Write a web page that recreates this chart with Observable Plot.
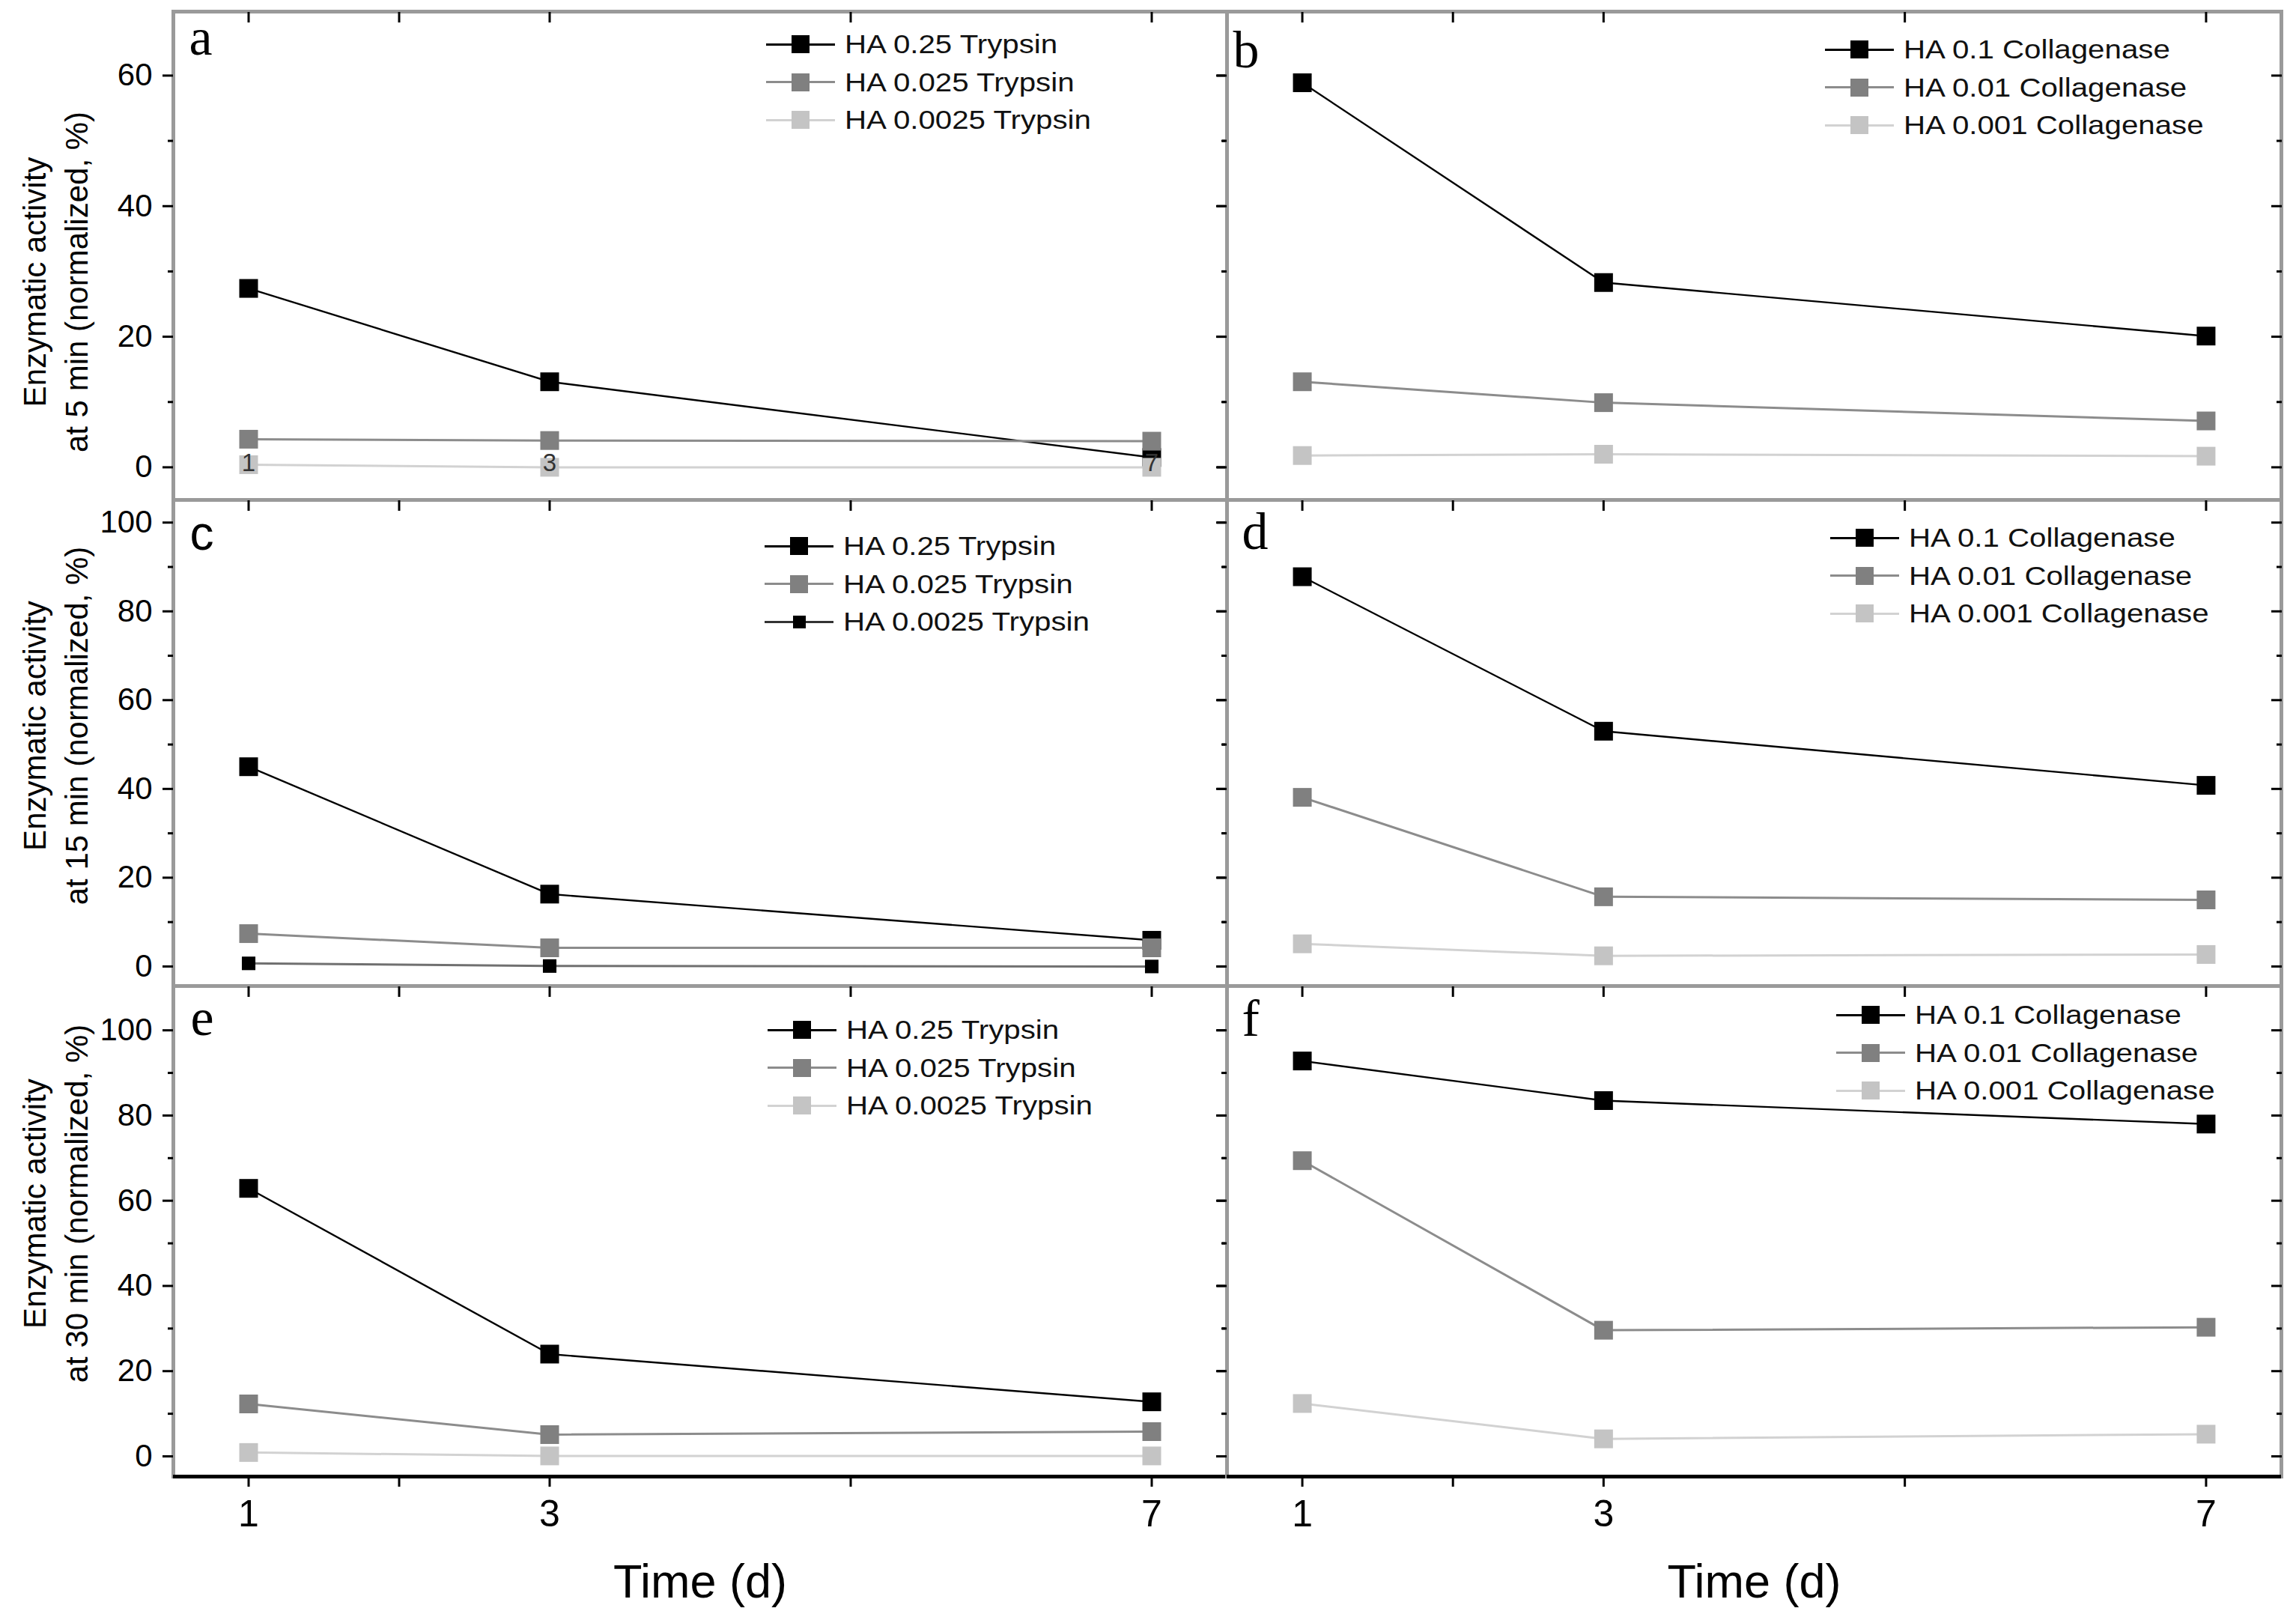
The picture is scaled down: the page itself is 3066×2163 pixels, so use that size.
<!DOCTYPE html>
<html><head><meta charset="utf-8">
<script src="https://cdn.jsdelivr.net/npm/d3@7"></script>
<script src="https://cdn.jsdelivr.net/npm/@observablehq/plot@0.6"></script>
<style>
body{margin:0;background:#fff;}
#root{position:relative;width:3066px;height:2163px;background:#fff;overflow:hidden;font-family:"Liberation Sans",Arial,sans-serif;}
.cell{position:absolute;}
.legend{position:absolute;font-family:"Liberation Sans",Arial,sans-serif;font-size:35px;color:#111;}
.lrow{position:absolute;left:0;height:0;white-space:nowrap;}
.lline{position:absolute;left:0;width:92px;top:-1.5px;height:3px;}
.lsq{position:absolute;}
.ltext{position:absolute;left:105px;top:0;transform-origin:0 50%;transform:translateY(-52%) scaleX(1.15);line-height:1;}
</style></head><body><div id="root"></div>
<script>
// ---- data ----
const days = [1, 3, 7];
const xTicks = [1, 2, 3, 5, 7];
const xTickLabels = [1, 3, 7];
const trypsinNames = ["HA 0.25 Trypsin", "HA 0.025 Trypsin", "HA 0.0025 Trypsin"];
const collagenaseNames = ["HA 0.1 Collagenase", "HA 0.01 Collagenase", "HA 0.001 Collagenase"];
const panelLetters = ["a", "b", "c", "d", "e", "f"];
const yTitles = [
  "Enzymatic activity\nat 5 min (normalized, %)",
  "Enzymatic activity\nat 15 min (normalized, %)",
  "Enzymatic activity\nat 30 min (normalized, %)"
];
const xTitle = "Time (d)";
// 5 min
const trypsin5_HA025 = [27.4, 13.1, 1.5];
const trypsin5_HA0025 = [4.3, 4.1, 4.0];
const trypsin5_HA00025 = [0.4, 0.0, 0.0];
const collagenase5_HA01 = [58.9, 28.3, 20.1];
const collagenase5_HA001 = [13.1, 9.9, 7.1];
const collagenase5_HA0001 = [1.8, 2.0, 1.7];
// 15 min
const trypsin15_HA025 = [45.0, 16.3, 5.9];
const trypsin15_HA0025 = [7.4, 4.2, 4.2];
const trypsin15_HA00025 = [0.7, 0.1, 0.0];
const collagenase15_HA01 = [87.8, 53.0, 40.8];
const collagenase15_HA001 = [38.1, 15.7, 15.0];
const collagenase15_HA0001 = [5.1, 2.4, 2.7];
// 30 min
const trypsin30_HA025 = [62.9, 24.0, 12.8];
const trypsin30_HA0025 = [12.3, 5.1, 5.8];
const trypsin30_HA00025 = [0.9, 0.1, 0.1];
const collagenase30_HA01 = [92.8, 83.5, 78.0];
const collagenase30_HA001 = [69.4, 29.6, 30.3];
const collagenase30_HA0001 = [12.4, 4.1, 5.2];
// axis ticks per row
const yMajorTicks = [[0, 20, 40, 60], [0, 20, 40, 60, 80, 100], [0, 20, 40, 60, 80, 100]];
const yMinorTicks = [[10, 30, 50], [10, 30, 50, 70, 90], [10, 30, 50, 70, 90]];
const yDomains = [[-5, 69.8], [-4.4, 105.1], [-4.75, 110.4]];

// ---- styles ----
const BLACK = {line: "#000000", marker: "#000000", r: 14.1, sw: 2.4};
const GREY = {line: "#8c8c8c", marker: "#808080", r: 14.1, sw: 3};
const LIGHT = {line: "#d2d2d2", marker: "#c4c4c4", r: 14.1, sw: 3};
const SMALLBLACK = {line: "#707070", marker: "#000000", r: 10.2, sw: 3};

const panels = [
  {row: 0, col: 0, names: trypsinNames, series: [trypsin5_HA025, trypsin5_HA0025, trypsin5_HA00025], styles: [BLACK, GREY, LIGHT], letter: {dx: 21, dy: 57, serif: true}, legend: {dx: 792, dy: 44}},
  {row: 0, col: 1, names: collagenaseNames, series: [collagenase5_HA01, collagenase5_HA001, collagenase5_HA0001], styles: [BLACK, GREY, LIGHT], letter: {dx: 8, dy: 74, serif: true}, legend: {dx: 799, dy: 51}},
  {row: 1, col: 0, names: trypsinNames, series: [trypsin15_HA025, trypsin15_HA0025, trypsin15_HA00025], styles: [BLACK, GREY, SMALLBLACK], letter: {dx: 22, dy: 66, serif: false}, legend: {dx: 790, dy: 62}},
  {row: 1, col: 1, names: collagenaseNames, series: [collagenase15_HA01, collagenase15_HA001, collagenase15_HA0001], styles: [BLACK, GREY, LIGHT], letter: {dx: 20, dy: 65, serif: true}, legend: {dx: 806, dy: 51}},
  {row: 2, col: 0, names: trypsinNames, series: [trypsin30_HA025, trypsin30_HA0025, trypsin30_HA00025], styles: [BLACK, GREY, LIGHT], letter: {dx: 23, dy: 65, serif: true}, legend: {dx: 794, dy: 59}},
  {row: 2, col: 1, names: collagenaseNames, series: [collagenase30_HA01, collagenase30_HA001, collagenase30_HA0001], styles: [BLACK, GREY, LIGHT], letter: {dx: 20, dy: 66, serif: true}, legend: {dx: 814, dy: 39}}
];

const cols = [{left: 0, width: 1638, mL: 231, mR: 0}, {left: 1638, width: 1428, mL: 0, mR: 20}];
const rows = [{top: 0, height: 667, mT: 15, mB: 0}, {top: 667, height: 649, mT: 0, mB: 0}, {top: 1316, height: 847, mT: 0, mB: 192}];
const yTitleShift = [35, -23, -37];

const SANS = "Liberation Sans, Arial, sans-serif";
const SERIF = "Liberation Serif, Times New Roman, serif";
const root = document.getElementById("root");

panels.forEach((p, pi) => {
  const C = cols[p.col], R = rows[p.row];
  const marks = [];
  marks.push(Plot.frame({stroke: "#9a9a9a", strokeWidth: 5}));
  if (p.row === 2) marks.push(Plot.ruleY([yDomains[p.row][0]], {stroke: "#000", strokeWidth: 5}));
  const ax = {stroke: "#000", strokeWidth: 3, label: null, fontFamily: SANS};
  // y axes
  marks.push(Plot.axisY({anchor: "left", ticks: yMajorTicks[p.row], tickSize: 14, tickPadding: 14, fontSize: 42,
    tickFormat: p.col === 0 ? (d => String(d)) : (() => ""), ...ax}));
  marks.push(Plot.axisY({anchor: "left", ticks: yMinorTicks[p.row], tickSize: 7, tickFormat: () => "", ...ax}));
  marks.push(Plot.axisY({anchor: "right", ticks: yMajorTicks[p.row], tickSize: 14, dx: -14, tickFormat: () => "", ...ax}));
  marks.push(Plot.axisY({anchor: "right", ticks: yMinorTicks[p.row], tickSize: 7, dx: -7, tickFormat: () => "", ...ax}));
  // x axes
  marks.push(Plot.axisX({anchor: "top", ticks: xTicks, tickSize: 14, dy: 14, tickFormat: () => "", ...ax}));
  if (p.row === 2) {
    marks.push(Plot.axisX({anchor: "bottom", ticks: xTicks, tickSize: 14, tickPadding: 17, fontSize: 50,
      tickFormat: d => xTickLabels.includes(d) ? String(d) : "", ...ax}));
    marks.push(Plot.text([xTitle], {frameAnchor: "bottom", dy: 161, lineAnchor: "bottom", fontSize: 63, fontFamily: SANS, fill: "#000"}));
  } else {
    marks.push(Plot.axisX({anchor: "bottom", ticks: xTicks, tickSize: 0, tickFormat: () => "", ...ax}));
  }
  if (p.col === 0) {
    marks.push(Plot.text([yTitles[p.row]], {frameAnchor: "left", dx: -160, dy: yTitleShift[p.row], rotate: -90,
      fontSize: 42, lineHeight: 1.33, textAnchor: "middle", lineAnchor: "middle", fontFamily: SANS, fill: "#000"}));
  }
  // data
  p.series.forEach((vals, si) => {
    const st = p.styles[si];
    const data = days.map((d, i) => ({day: d, value: vals[i]}));
    marks.push(Plot.line(data, {x: "day", y: "value", stroke: st.line, strokeWidth: st.sw}));
    marks.push(Plot.dot(data, {x: "day", y: "value", symbol: "square", r: st.r, fill: st.marker, stroke: "none"}));
  });
  if (pi === 0) {
    // stray tick labels that sit inside panel a at the zero line, over the markers
    marks.push(Plot.text(xTickLabels, {x: d => d, frameAnchor: "bottom", dy: -39, fontSize: 33, fill: "#333", fontFamily: SANS}));
  }
  // panel letter
  marks.push(Plot.text([panelLetters[pi]], {frameAnchor: "top-left", dx: p.letter.dx, dy: p.letter.dy, lineAnchor: "bottom", textAnchor: "start",
    fontSize: p.letter.serif ? 70 : 64, fontFamily: p.letter.serif ? SERIF : SANS, fill: "#000"}));

  const svg = Plot.plot({
    width: C.width, height: R.height,
    marginLeft: C.mL, marginRight: C.mR, marginTop: R.mT, marginBottom: R.mB,
    x: {domain: [0.5, 7.5], label: null},
    y: {domain: yDomains[p.row], label: null},
    style: {background: "transparent", overflow: "visible", fontFamily: SANS, fontSize: "40px", color: "#000"},
    marks
  });
  svg.classList.add("cell");
  svg.style.left = C.left + "px";
  svg.style.top = R.top + "px";
  root.appendChild(svg);

  // legend (HTML overlay)
  const lg = document.createElement("div");
  lg.className = "legend";
  lg.style.left = (C.left + C.mL + p.legend.dx) + "px";
  lg.style.top = (R.top + R.mT + p.legend.dy) + "px";
  p.names.forEach((name, si) => {
    const st = p.styles[si];
    const row = document.createElement("div");
    row.className = "lrow";
    row.style.top = (si * 50.5) + "px";
    const ln = document.createElement("div");
    ln.className = "lline"; ln.style.background = st.line === "#707070" ? "#333" : st.line;
    const sq = document.createElement("div");
    const s = st.r < 12 ? 17 : 24;
    sq.className = "lsq"; sq.style.width = s + "px"; sq.style.height = s + "px";
    sq.style.left = (46 - s / 2) + "px"; sq.style.top = (-s / 2) + "px"; sq.style.background = st.marker;
    const tx = document.createElement("div");
    tx.className = "ltext"; tx.textContent = name;
    row.appendChild(ln); row.appendChild(sq); row.appendChild(tx);
    lg.appendChild(row);
  });
  root.appendChild(lg);
});
</script></body></html>
